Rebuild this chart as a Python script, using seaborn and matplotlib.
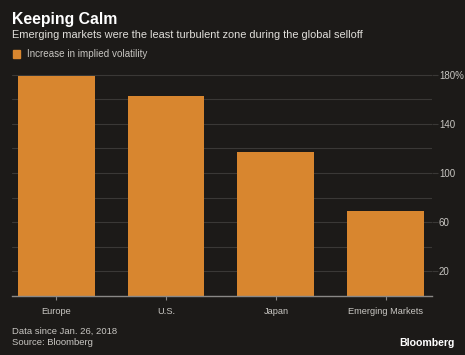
import matplotlib
matplotlib.use("Agg")
import matplotlib.pyplot as plt
import seaborn as sns

regions = ["Europe", "U.S.", "Japan", "Emerging Markets"]
vol_increase = [179, 163, 117, 69]
major_ticks = [20, 60, 100, 140, 180]
minor_ticks = [40, 80, 120, 160]
tick_labels = ["20", "60", "100", "140", "180%"]

bg = "#1c1a18"
bar_color = "#d8862f"
grid_color = "#3a3836"
text_grey = "#c8c6c2"

sns.set_style("dark")
plt.rcParams["font.family"] = ["Liberation Sans", "DejaVu Sans"]

fig = plt.figure(figsize=(4.65, 3.55), dpi=100, facecolor=bg)
ax = fig.add_axes([0.026, 0.166, 0.903, 0.627])
ax.set_facecolor(bg)

sns.barplot(x=regions, y=vol_increase, color=bar_color, width=0.7,
            saturation=1, linewidth=0, edgecolor="none", ax=ax)

ax.set_ylim(0, 181)
ax.set_xlim(-0.4, 3.42)
ax.yaxis.tick_right()
ax.set_yticks(major_ticks)
ax.set_yticklabels(tick_labels)
ax.set_yticks(minor_ticks, minor=True)
ax.set_axisbelow(True)
ax.grid(axis="y", which="both", color=grid_color, linewidth=0.8)
ax.grid(axis="x", visible=False)
ax.tick_params(axis="y", which="both", colors=grid_color, labelcolor=text_grey,
               labelsize=7, length=4, width=0.8, pad=1, right=True)
ax.tick_params(axis="y", which="minor", length=0)
ax.tick_params(axis="x", colors="#8a8886", labelcolor=text_grey, labelsize=6.7,
               length=3, width=0.8, pad=5, bottom=True)
for lbl in ax.get_yticklabels():
    lbl.set_horizontalalignment("left")
for side in ["top", "left", "right"]:
    ax.spines[side].set_visible(False)
ax.spines["bottom"].set_color("#8a8886")
ax.spines["bottom"].set_linewidth(1)
ax.set_xlabel("")
ax.set_ylabel("")

fig.text(0.026, 0.945, "Keeping Calm", color="white", fontsize=11.4,
         fontweight="bold", va="center")
fig.text(0.026, 0.9, "Emerging markets were the least turbulent zone during the global selloff",
         color="#e0deda", fontsize=7.9, va="center")
fig.patches.append(plt.Rectangle((0.028, 0.836), 0.016, 0.022, color=bar_color,
                                 transform=fig.transFigure, figure=fig))
fig.text(0.058, 0.847, "Increase in implied volatility", color=text_grey,
         fontsize=7.1, va="center")

fig.text(0.026, 0.066, "Data since Jan. 26, 2018", color=text_grey, fontsize=6.8, va="center")
fig.text(0.026, 0.035, "Source: Bloomberg", color=text_grey, fontsize=6.8, va="center")
fig.text(0.977, 0.034, "Bloomberg", color="white", fontsize=7.6, fontweight="bold",
         ha="right", va="center")

fig.savefig("out.png", dpi=100, facecolor=bg)
